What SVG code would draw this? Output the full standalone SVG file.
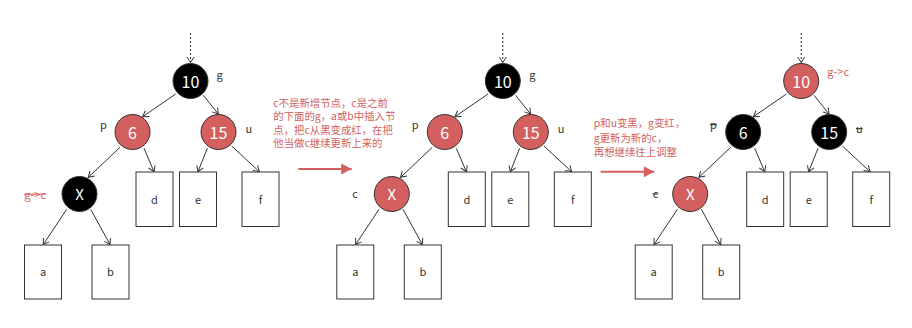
<svg xmlns="http://www.w3.org/2000/svg" width="912" height="328" viewBox="0 0 912 328">
<defs>
<marker id="open" markerUnits="userSpaceOnUse" viewBox="-7 -5 8 10" refX="0" refY="0" markerWidth="8" markerHeight="10" orient="auto">
<path d="M-5.5,-3.5 L0,0 L-5.5,3.5" fill="none" stroke="#333" stroke-width="1"/>
</marker>
<marker id="solid" markerUnits="userSpaceOnUse" viewBox="-11 -6 12 12" refX="0" refY="0" markerWidth="12" markerHeight="12" orient="auto">
<path d="M-10.5,-5.5 L0,0 L-10.5,5.5 Z" fill="#d35f5f"/>
</marker>
<style>
text{font-family:"Noto Sans CJK SC","Noto Sans",sans-serif}
.e{fill:none;stroke:#333;stroke-width:1;marker-end:url(#open)}
.dot{stroke-dasharray:2 2}
.blk{fill:#000;stroke:#333;stroke-width:1}
.red{fill:#d35f5f;stroke:#333;stroke-width:1}
.box{fill:#fff;stroke:#333;stroke-width:1}
.num{fill:#fff;font-size:16px;text-anchor:middle}
.lt{fill:#333;font-size:11px;text-anchor:middle}
.lb{fill:#333;font-size:11px}
.strike{text-decoration:line-through}
.rt{fill:#d35f5f;font-size:10.4px}
.ra{stroke:#d35f5f;stroke-width:2;fill:none;marker-end:url(#solid)}
</style>
</defs>

<!-- Tree 1 -->
<g id="tree1">
<g id="t1-connectors">
<path class="e dot" d="M190.5,33 V62.5"/>
<path class="e" d="M175.7,94 L142.7,116.7"/>
<path class="e" d="M203.3,95.3 L218.3,114"/>
<path class="e" d="M120,147.3 L88.3,177.3"/>
<path class="e" d="M144,148.3 L154,171.7"/>
<path class="e" d="M207.3,148.3 L198,171.7"/>
<path class="e" d="M231.7,146 L259.3,171.7"/>
<path class="e" d="M66.7,209.3 L43.3,244.5"/>
<path class="e" d="M90.7,209.3 L110,244.5"/>
</g>
<g id="t1-g"><circle class="blk" cx="190.5" cy="81" r="17.5"/><text class="num" x="190.5" y="88">10</text><text class="lb" x="216.5" y="79">g</text></g>
<g id="t1-p"><circle class="red" cx="132.5" cy="132" r="17.5"/><text class="num" x="132.5" y="139">6</text><text class="lb" x="100" y="129">p</text></g>
<g id="t1-u"><circle class="red" cx="218.5" cy="132" r="17.5"/><text class="num" x="218.5" y="139">15</text><text class="lb" x="245.5" y="133">u</text></g>
<g id="t1-x"><circle class="blk" cx="79.5" cy="194" r="17.5"/><text class="num" x="79.5" y="200" style="font-size:15px">X</text><text class="rt strike" x="24.3" y="198.5" style="font-size:11px">g-&gt;c</text></g>
<g id="t1-a"><rect class="box" x="24.5" y="245" width="37" height="54"/><text class="lt" x="43" y="276">a</text></g>
<g id="t1-b"><rect class="box" x="92" y="245" width="37" height="54"/><text class="lt" x="110.5" y="276">b</text></g>
<g id="t1-d"><rect class="box" x="136" y="172" width="37" height="54.5"/><text class="lt" x="154.5" y="203.5">d</text></g>
<g id="t1-e"><rect class="box" x="179.5" y="172" width="37" height="54.5"/><text class="lt" x="198" y="203.5">e</text></g>
<g id="t1-f"><rect class="box" x="242" y="172" width="37" height="54.5"/><text class="lt" x="260.5" y="203.5">f</text></g>
</g>

<!-- Step 1 -->
<g id="step1">
<text class="rt" x="273.3" y="106.8">c不是新增节点，c是之前</text>
<text class="rt" x="273.3" y="120.3">的下面的g，a或b中插入节</text>
<text class="rt" x="273.3" y="133.6">点，把c从黑变成红，在把</text>
<text class="rt" x="273.3" y="146.9">他当做c继续更新上来的</text>
<path class="ra" d="M298.3,169 H351.7"/>
</g>

<!-- Tree 2 -->
<g id="tree2" transform="translate(312.3,0)">
<g id="t2-connectors">
<path class="e dot" d="M190.5,33 V62.5"/>
<path class="e" d="M175.7,94 L142.7,116.7"/>
<path class="e" d="M203.3,95.3 L218.3,114"/>
<path class="e" d="M120,147.3 L88.3,177.3"/>
<path class="e" d="M144,148.3 L154,171.7"/>
<path class="e" d="M207.3,148.3 L198,171.7"/>
<path class="e" d="M231.7,146 L259.3,171.7"/>
<path class="e" d="M66.7,209.3 L43.3,244.5"/>
<path class="e" d="M90.7,209.3 L110,244.5"/>
</g>
<g id="t2-g"><circle class="blk" cx="190.5" cy="81" r="17.5"/><text class="num" x="190.5" y="88">10</text><text class="lb" x="217" y="79">g</text></g>
<g id="t2-p"><circle class="red" cx="132.5" cy="132" r="17.5"/><text class="num" x="132.5" y="139">6</text><text class="lb" x="99.5" y="129">p</text></g>
<g id="t2-u"><circle class="red" cx="218.5" cy="132" r="17.5"/><text class="num" x="218.5" y="139">15</text><text class="lb" x="245.5" y="133">u</text></g>
<g id="t2-x"><circle class="red" cx="79.5" cy="194" r="17.5"/><text class="num" x="79.5" y="200" style="font-size:15px">X</text><text class="lb" x="40" y="198.3">c</text></g>
<g id="t2-a"><rect class="box" x="24.5" y="245" width="37" height="54"/><text class="lt" x="43" y="276">a</text></g>
<g id="t2-b"><rect class="box" x="92" y="245" width="37" height="54"/><text class="lt" x="110.5" y="276">b</text></g>
<g id="t2-d"><rect class="box" x="136" y="172" width="37" height="54.5"/><text class="lt" x="154.5" y="203.5">d</text></g>
<g id="t2-e"><rect class="box" x="179.5" y="172" width="37" height="54.5"/><text class="lt" x="198" y="203.5">e</text></g>
<g id="t2-f"><rect class="box" x="242" y="172" width="37" height="54.5"/><text class="lt" x="260.5" y="203.5">f</text></g>
</g>

<!-- Step 2 -->
<g id="step2">
<text class="rt" x="593.8" y="127.3">p和u变黑，g变红，</text>
<text class="rt" x="593.8" y="141.6">g更新为新的c，</text>
<text class="rt" x="593.8" y="156">再想继续往上调整</text>
<path class="ra" d="M600.7,171.7 H654.3"/>
</g>

<!-- Tree 3 -->
<g id="tree3" transform="translate(610.7,0)">
<g id="t3-connectors">
<path class="e dot" d="M190.5,33 V62.5"/>
<path class="e" d="M175.7,94 L142.7,116.7"/>
<path class="e" d="M203.3,95.3 L218.3,114"/>
<path class="e" d="M120,147.3 L88.3,177.3"/>
<path class="e" d="M144,148.3 L154,171.7"/>
<path class="e" d="M207.3,148.3 L198,171.7"/>
<path class="e" d="M231.7,146 L259.3,171.7"/>
<path class="e" d="M66.7,209.3 L43.3,244.5"/>
<path class="e" d="M90.7,209.3 L110,244.5"/>
</g>
<g id="t3-g"><circle class="red" cx="190.5" cy="81" r="17.5"/><text class="num" x="190.5" y="88">10</text><text class="rt" x="216.6" y="76" style="font-size:11px">g-&gt;c</text></g>
<g id="t3-p"><circle class="blk" cx="132.5" cy="132" r="17.5"/><text class="num" x="132.5" y="139">6</text><text class="lb strike" x="99.3" y="129">p</text></g>
<g id="t3-u"><circle class="blk" cx="218.5" cy="132" r="17.5"/><text class="num" x="218.5" y="139">15</text><text class="lb strike" x="245.3" y="133">u</text></g>
<g id="t3-x"><circle class="red" cx="79.5" cy="194" r="17.5"/><text class="num" x="79.5" y="200" style="font-size:15px">X</text><text class="lb strike" x="42" y="198.3">c</text></g>
<g id="t3-a"><rect class="box" x="24.5" y="245" width="37" height="54"/><text class="lt" x="43" y="276">a</text></g>
<g id="t3-b"><rect class="box" x="92" y="245" width="37" height="54"/><text class="lt" x="110.5" y="276">b</text></g>
<g id="t3-d"><rect class="box" x="136" y="172" width="37" height="54.5"/><text class="lt" x="154.5" y="203.5">d</text></g>
<g id="t3-e"><rect class="box" x="179.5" y="172" width="37" height="54.5"/><text class="lt" x="198" y="203.5">e</text></g>
<g id="t3-f"><rect class="box" x="242" y="172" width="37" height="54.5"/><text class="lt" x="260.5" y="203.5">f</text></g>
</g>
</svg>
